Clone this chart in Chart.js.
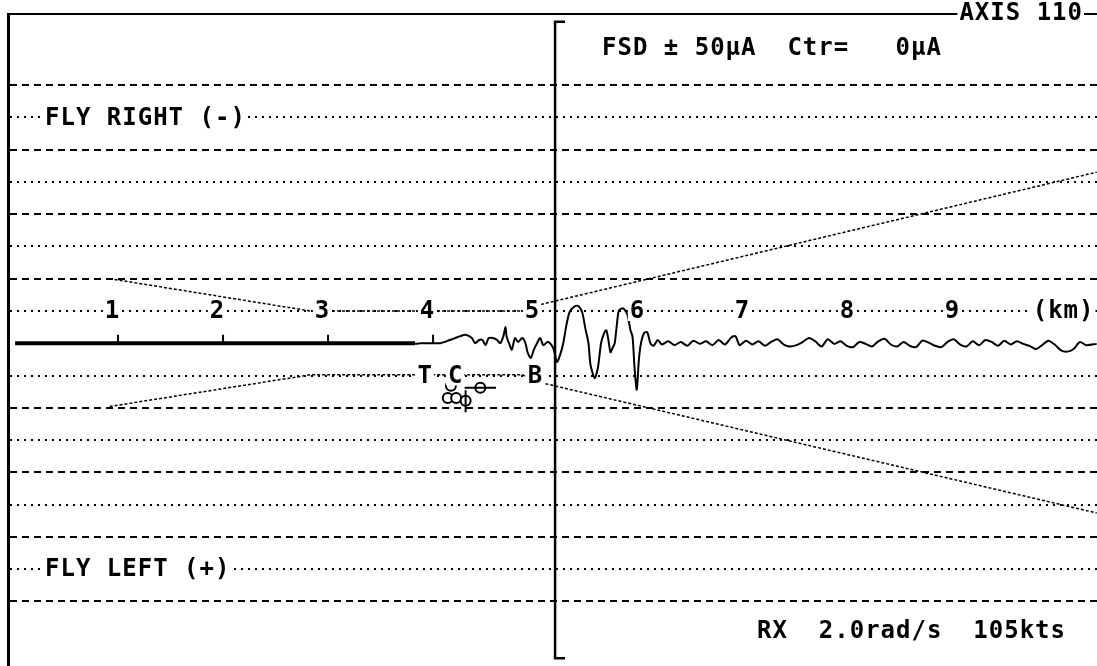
<!DOCTYPE html>
<html>
<head>
<meta charset="utf-8">
<script src="https://cdn.jsdelivr.net/npm/chart.js@4/dist/chart.umd.min.js"></script>
<style>
html,body{margin:0;padding:0;background:#fff;}
#wrap{width:1097px;height:666px;}
</style>
</head>
<body>
<div id="wrap"><canvas id="c" width="1097" height="666"></canvas></div>
<script>
// ---------- data (km along track, deviation in µA; negative = fly right) ----------
const kmTicks = [1, 2, 3, 4, 5, 6, 7, 8, 9];
const kmUnitLabel = '(km)';

const baseKm = [0.02, 3.83];
const baseUA = [0, 0];

const traceKm = [3.83, 3.88, 4.00, 4.07, 4.16, 4.21, 4.26, 4.31, 4.37, 4.40, 4.44, 4.47, 4.50, 4.53, 4.57,
  4.61, 4.64, 4.67, 4.69, 4.70, 4.73, 4.75, 4.78, 4.81, 4.85, 4.88, 4.90, 4.93, 4.96, 4.99,
  5.02, 5.05, 5.09, 5.12, 5.15, 5.18, 5.21, 5.24, 5.27, 5.30, 5.34, 5.38, 5.42, 5.45, 5.48,
  5.50, 5.54, 5.57, 5.60, 5.63, 5.65, 5.67, 5.69, 5.71, 5.73, 5.75, 5.77, 5.81, 5.85, 5.88,
  5.90, 5.92, 5.94, 5.96, 5.98, 6.01, 6.04, 6.07, 6.10, 6.14,
  6.18, 6.24, 6.30, 6.36, 6.42, 6.48, 6.54, 6.60, 6.66, 6.72, 6.78, 6.84, 6.88, 6.92, 6.98,
  7.04, 7.10, 7.16, 7.22, 7.28, 7.34, 7.40, 7.46, 7.52, 7.58, 7.64, 7.70, 7.76, 7.82, 7.88,
  7.94, 8.00, 8.06, 8.12, 8.18, 8.24, 8.30, 8.36, 8.42, 8.48, 8.54, 8.60, 8.66, 8.72, 8.78,
  8.84, 8.90, 8.96, 9.02, 9.08, 9.14, 9.20, 9.26, 9.32, 9.38, 9.44, 9.50, 9.56, 9.62, 9.68,
  9.74, 9.80, 9.86, 9.92, 9.98, 10.04, 10.10, 10.16, 10.22, 10.32];
const traceUA = [0.1, 0, 0, 0, -0.5, -0.8, -1.1, -1.3, -0.8, 0, -0.5, -0.5, 0.3, -0.8, -0.8,
  -0.5, 0, -1.1, -2.5, -1.1, 0.3, 1.0, -0.8, -0.2, -0.8, 0, 1.4, 2.3, 1.0, 0,
  -0.8, 0.3, -0.2, 0.1, 1.0, 2.9, 1.8, 0, -2.8, -4.8, -5.6, -5.8, -4.8, -2.3, 0,
  3.4, 5.4, 3.8, 0, -1.6, -2.0, -0.5, 1.4, 0.7, 0, -2.8, -5.1, -5.4, -4.5, -2.0,
  -1.0, 4.1, 7.2, 2.6, 0, -1.6, -1.7, 0, 0.4, -0.5,
  0.2, -0.3, 0.3, -0.2, 0.4, -0.4, 0.1, -0.3, 0.3, -0.5, 0.2, -0.9, -1.1, 0.3, -0.4,
  0.2, -0.3, 0.4, -0.2, -0.6, 0.2, 0.5, 0.3, -0.2, -0.8, -0.3, 0.5, -0.6, 0.1, -0.3,
  0.4, 0.6, -0.2, 0.1, 0.5, -0.3, -0.7, 0.2, 0.5, -0.2, 0.4, 0.6, -0.4, -0.1, 0.4,
  0.6, -0.2, -0.6, 0.2, 0.5, -0.3, 0.3, -0.5, -0.2, 0.4, -0.4, 0.2, -0.3, 0.1, 0.4,
  0.9, 0.3, -0.4, 0.2, 1.1, 1.3, 0.9, -0.2, 0.3, 0.1];

const upperKm = [0.92, 2.83, 4.85, 5.00, 10.32];
const upperUA = [-10.0, -5.0, -5.0, -5.9, -26.5];
const lowerKm = [0.92, 2.83, 4.85, 5.00, 10.32];
const lowerUA = [9.8, 4.9, 4.9, 6.0, 26.3];

const thresholdKm = 5.162;
const thresholdUA = [-49.8, 48.8];

const eventLabels = ['T', 'C', 'B'];
const eventKm = [3.92, 4.21, 4.97];

const markKm = [4.17, 4.14, 4.22, 4.31, 4.45];
const markUA = [6.6, 8.5, 8.5, 8.9, 6.9];

const gridStepUA = 5;

// ---------- build ----------
const pts = (xs, ys) => xs.map((v, i) => ({x: v, y: ys[i]}));
const tickPts = [];
kmTicks.filter(k => k <= 4).forEach(k => { tickPts.push({x: k, y: 0}, {x: k, y: -1.3}, {x: k, y: null}); });
const bracketPts = [
  {x: thresholdKm + 0.095, y: thresholdUA[0]}, {x: thresholdKm, y: thresholdUA[0]},
  {x: thresholdKm, y: thresholdUA[1]}, {x: thresholdKm + 0.095, y: thresholdUA[1]}
];
const markLinePts = [
  {x: markKm[3], y: markUA[3] - 1.6}, {x: markKm[3], y: markUA[3] + 1.8}, {x: markKm[3], y: null},
  {x: markKm[4] - 0.15, y: markUA[4]}, {x: markKm[4] + 0.15, y: markUA[4]}
];

const lineDs = (data, w, extra) => Object.assign({
  data, showLine: true, borderColor: '#000', borderWidth: w, pointRadius: 0, fill: false, spanGaps: false
}, extra || {});

const textPlugin = {
  id: 'texts',
  afterDatasetsDraw(chart) {
    const {ctx, scales: {x, y}} = chart;
    ctx.save();
    ctx.font = 'bold 24px "DejaVu Sans Mono"';
    ctx.letterSpacing = '1px';
    ctx.textBaseline = 'middle';
    const put = (t, px, py, align) => {
      ctx.textAlign = 'left';
      const w = ctx.measureText(t).width - 1;
      let x0 = px;
      if (align === 'center') x0 = px - w / 2;
      if (align === 'right') x0 = px - w;
      ctx.fillStyle = '#fff';
      ctx.fillRect(x0 - 2, py - 10, w + 4, 20);
      ctx.fillStyle = '#000';
      ctx.fillText(t, x0, py + 1);
    };
    kmTicks.forEach(k => put(String(k), x.getPixelForValue(k) - 6, y.getPixelForValue(-gridStepUA), 'center'));
    put(kmUnitLabel, x.getPixelForValue(10), y.getPixelForValue(-gridStepUA), 'center');
    eventLabels.forEach((t, i) => put(t, x.getPixelForValue(eventKm[i]), y.getPixelForValue(gridStepUA), 'center'));
    put('FLY RIGHT (-)', 45, y.getPixelForValue(-35));
    put('FLY LEFT (+)', 45, y.getPixelForValue(35));
    put('FSD \u00b1 50\u00b5A  Ctr=   0\u00b5A', 602, 48);
    put('RX  2.0rad/s  105kts', 757, 631);
    put('AXIS 110', 1082, 13, 'right');
    ctx.restore();
  }
};

new Chart(document.getElementById('c'), {
  type: 'scatter',
  data: {
    datasets: [
      lineDs(pts(baseKm, baseUA), 4),
      lineDs(tickPts, 2),
      lineDs(pts(traceKm, traceUA), 2, {tension: 0.25}),
      lineDs(pts(upperKm, upperUA), 1.5, {borderDash: [3, 2]}),
      lineDs(pts(lowerKm, lowerUA), 1.5, {borderDash: [3, 2]}),
      lineDs(bracketPts, 2.5),
      lineDs(markLinePts, 2),
      {data: pts(markKm, markUA), showLine: false, pointRadius: 5, pointBorderWidth: 2,
       pointBackgroundColor: '#fff', pointBorderColor: '#000'}
    ]
  },
  options: {
    responsive: false,
    devicePixelRatio: 1,
    animation: false,
    layout: {autoPadding: false, padding: {left: 8, top: 14, right: 0, bottom: 0}},
    plugins: {legend: {display: false}, tooltip: {enabled: false}},
    scales: {
      x: {
        type: 'linear', position: 'top', min: -0.048, max: 10.323,
        ticks: {display: false},
        grid: {display: false, drawTicks: false, tickLength: 0},
        border: {display: true, color: '#000', width: 2}
      },
      y: {
        type: 'linear', reverse: true, min: -51, max: 50,
        ticks: {display: false, stepSize: gridStepUA, includeBounds: false},
        grid: {
          drawTicks: false, tickLength: 0,
          lineWidth: 2,
          color: c => {
            const v = c.tick ? c.tick.value : 0;
            return (v === 0 || Math.abs(v) > 40) ? 'rgba(0,0,0,0)' : '#000';
          }
        },
        border: {
          display: true, color: '#000', width: 3,
          dash: c => (c.tick && c.tick.value % 10 === 0) ? [7, 5] : [2, 5]
        }
      }
    }
  },
  plugins: [textPlugin]
});
</script>
</body>
</html>
